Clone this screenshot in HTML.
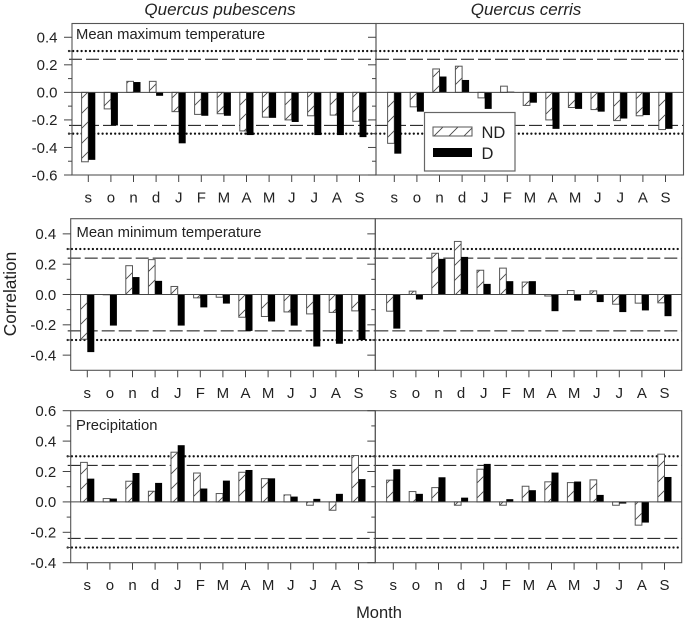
<!DOCTYPE html>
<html lang="en">
<head>
<meta charset="utf-8">
<title>Correlation by month for Quercus pubescens and Quercus cerris</title>
<style>
html,body{margin:0;padding:0;background:#fff;}
#chart{display:block;width:687px;height:623px;}
text{font-family:"Liberation Sans",sans-serif;fill:#222;}
</style>
</head>
<body>
<svg id="chart" xmlns="http://www.w3.org/2000/svg" width="687" height="623" viewBox="0 0 687 623">
<defs>
<pattern id="hatch" patternUnits="userSpaceOnUse" width="15" height="15">
<path d="M-1 16L16 -1" stroke="#444" stroke-width="0.9" fill="none"/>
<path d="M-8 8L8 -8M7 23L23 7" stroke="#444" stroke-width="0.9" fill="none"/>
</pattern>
</defs>
<g id="plot"></g>
<text x="220" y="15" font-size="17" font-style="italic" text-anchor="middle">Quercus pubescens</text>
<text x="526" y="15" font-size="17" font-style="italic" text-anchor="middle">Quercus cerris</text>
<text transform="translate(16 294) rotate(-90)" font-size="17.3" text-anchor="middle">Correlation</text>
<text x="379" y="618" font-size="16.5" text-anchor="middle">Month</text>
<g>
<rect x="424.5" y="112.5" width="90.5" height="58.5" fill="#fff" stroke="#666" stroke-width="1.2"/>
<rect x="433" y="127" width="39" height="9" fill="url(#hatch)" stroke="#555"/>
<text x="481.5" y="138" font-size="16.5">ND</text>
<rect x="433" y="148" width="39" height="9" fill="#000"/>
<text x="481.5" y="159" font-size="16.5">D</text>
</g>
</svg>
<script>
const months = ['s','o','n','d','J','F','M','A','M','J','J','A','S'];
const significance99 = 0.3;
const significance95 = 0.24;
const ticksTempMax = [0.4,0.2,0.0,-0.2,-0.4,-0.6];
const ticksTempMin = [0.4,0.2,0.0,-0.2,-0.4];
const ticksPrecip = [0.6,0.4,0.2,0.0,-0.2,-0.4];
const pubMaxND = [-0.504,-0.12,0.08,0.08,-0.14,-0.16,-0.155,-0.28,-0.18,-0.2,-0.17,-0.165,-0.21];
const pubMaxD = [-0.49,-0.24,0.075,-0.025,-0.37,-0.17,-0.17,-0.31,-0.185,-0.215,-0.31,-0.31,-0.325];
const cerMaxND = [-0.37,-0.105,0.17,0.19,-0.04,0.045,-0.095,-0.2,-0.11,-0.125,-0.205,-0.17,-0.27];
const cerMaxD = [-0.445,-0.14,0.115,0.09,-0.12,0.005,-0.075,-0.265,-0.12,-0.14,-0.19,-0.165,-0.265];
const pubMinND = [-0.295,-0.002,0.19,0.23,0.053,-0.022,-0.018,-0.15,-0.145,-0.115,-0.128,-0.118,-0.108];
const pubMinD = [-0.38,-0.205,0.115,0.09,-0.205,-0.085,-0.06,-0.24,-0.178,-0.205,-0.343,-0.325,-0.3];
const cerMinND = [-0.11,0.022,0.272,0.35,0.16,0.174,0.082,-0.01,0.026,0.024,-0.064,-0.057,-0.055];
const cerMinD = [-0.225,-0.033,0.235,0.248,0.07,0.088,0.088,-0.11,-0.04,-0.05,-0.116,-0.105,-0.143];
const pubPreND = [0.26,0.022,0.136,0.07,0.327,0.19,0.055,0.195,0.153,0.046,-0.022,-0.055,0.305];
const pubPreD = [0.153,0.022,0.19,0.125,0.373,0.088,0.14,0.21,0.155,0.035,0.02,0.053,0.15];
const cerPreND = [0.143,0.068,0.094,-0.022,0.215,-0.022,0.103,0.132,0.127,0.145,-0.022,-0.153,0.314];
const cerPreD = [0.215,0.053,0.162,0.028,0.25,0.018,0.077,0.193,0.134,0.046,-0.011,-0.136,0.164];

const SVGNS = 'http://www.w3.org/2000/svg';
const plot = document.getElementById('plot');
function make(tag, attrs, parent, text) {
  const el = document.createElementNS(SVGNS, tag);
  for (const k in attrs) el.setAttribute(k, attrs[k]);
  if (text !== undefined) el.textContent = text;
  parent.appendChild(el);
  return el;
}
function drawPanel(cfg) {
  const g = make('g', {}, plot);
  
  
  const y = v => cfg.top + (cfg.max - v) / (cfg.max - cfg.min) * (cfg.bottom - cfg.top);
  const x = i => cfg.firstX + i * 22.6;
  const hLine = (v, dash, width, name) => {
    const l = make('line', {x1: cfg.left - (cfg.showY ? 3 : 0), x2: cfg.right, y1: y(v), y2: y(v), stroke: '#111', 'stroke-width': width, 'stroke-dasharray': dash, 'stroke-linecap': dash[0] === '0' ? 'round' : 'butt'}, g);
    
    
  };
  hLine(significance95, '13 4', 1, 'threshold-95-upper');
  hLine(-significance95, '13 4', 1, 'threshold-95-lower');
  hLine(significance99, '0 4.2', 2.3, 'threshold-99-upper');
  hLine(-significance99, '0 4.2', 2.3, 'threshold-99-lower');
  months.forEach((m, i) => {
    const nd = cfg.nd[i];
    const d = cfg.d[i];
    const ndTop = Math.min(y(nd), y(0));
    const ndHeight = Math.abs(y(nd) - y(0));
    make('rect', {x: x(i) - 6.7, width: 6.7, y: ndTop, height: ndHeight, fill: '#fff'}, g);
    const ndBar = make('rect', {x: x(i) - 6.7, width: 6.7, y: ndTop, height: ndHeight, fill: 'url(#hatch)', stroke: '#555', 'stroke-width': 1}, g);
    
    
    const dBar = make('rect', {x: x(i), width: 7, y: Math.min(y(d), y(0)), height: Math.abs(y(d) - y(0)), fill: '#000'}, g);
    
    
    const tick = make('line', {x1: x(i), x2: x(i), y1: cfg.bottom, y2: cfg.bottom + 7, stroke: '#444', 'stroke-width': 1}, g);
    
    
    const lab = make('text', {x: x(i), y: cfg.bottom + 27.5, 'font-size': 15, 'text-anchor': 'middle'}, g, m);
    
    
  });
  const zero = make('line', {x1: cfg.left, x2: cfg.right, y1: y(0), y2: y(0), stroke: '#444', 'stroke-width': 1}, g);
  
  
  const frame = make('rect', {x: cfg.left, y: cfg.top, width: cfg.right - cfg.left, height: cfg.bottom - cfg.top, fill: 'none', stroke: '#555', 'stroke-width': 1.1}, g);
  
  
  cfg.ticks.forEach((t, i) => {
    const tickLeft = make('line', {x1: cfg.left - 8, x2: cfg.left, y1: y(t), y2: y(t), stroke: '#444', 'stroke-width': 1}, g);
    
    
    if (i < cfg.ticks.length - 1) {
      const mid = (t + cfg.ticks[i + 1]) / 2;
      make('line', {x1: cfg.left - 4, x2: cfg.left, y1: y(mid), y2: y(mid), stroke: '#444', 'stroke-width': 1}, g);
    }
    if (cfg.showY) {
      const lab = make('text', {x: cfg.left - 14.5, y: y(t) + 5.3, 'font-size': 15, 'text-anchor': 'end'}, g, t.toFixed(1));
      
      
    }
  });
  if (cfg.label) {
    const lab = make('text', {x: cfg.labelX, y: cfg.labelY, 'font-size': 14.8}, g, cfg.label);
    
    
  }
}
const rows = [
  {top: 23.5, bottom: 175, max: 0.5, min: -0.6, ticks: ticksTempMax, l: 72, m: 376, r: 683.5, fx: 88.3, fx2: 394.3, label: 'Mean maximum temperature', labelX: 76, labelY: 39, a: pubMaxND, b: pubMaxD, c: cerMaxND, e: cerMaxD, key: 'max'},
  {top: 218.7, bottom: 370.3, max: 0.5, min: -0.5, ticks: ticksTempMin, l: 70.7, m: 375.3, r: 681.7, fx: 87.3, fx2: 393.3, label: 'Mean minimum temperature', labelX: 76.5, labelY: 237, a: pubMinND, b: pubMinD, c: cerMinND, e: cerMinD, key: 'min'},
  {top: 410.7, bottom: 562.7, max: 0.6, min: -0.4, ticks: ticksPrecip, l: 70.7, m: 375.3, r: 681.7, fx: 87.3, fx2: 393.3, label: 'Precipitation', labelX: 76, labelY: 430, a: pubPreND, b: pubPreD, c: cerPreND, e: cerPreD, key: 'precip'}
];
rows.forEach(r => {
  drawPanel({name: 'panel-pubescens-' + r.key, top: r.top, bottom: r.bottom, max: r.max, min: r.min, ticks: r.ticks, left: r.l, right: r.m, firstX: r.fx, label: r.label, labelX: r.labelX, labelY: r.labelY, nd: r.a, d: r.b, showY: true});
  drawPanel({name: 'panel-cerris-' + r.key, top: r.top, bottom: r.bottom, max: r.max, min: r.min, ticks: r.ticks, left: r.m, right: r.r, firstX: r.fx2, label: '', nd: r.c, d: r.e, showY: false});
});
</script>
</body>
</html>
